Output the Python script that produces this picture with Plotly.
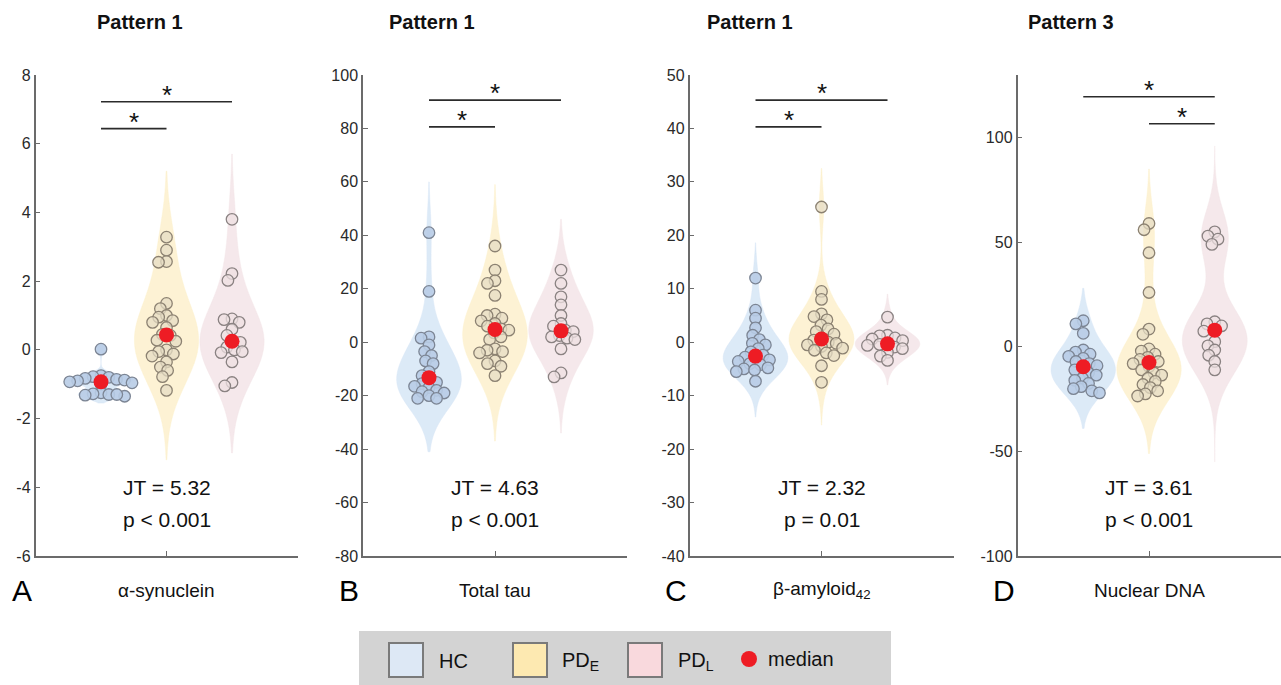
import numpy as np
import plotly.graph_objects as go

# ---------------- data ----------------
groups = ["HC", "PD<sub>E</sub>", "PD<sub>L</sub>"]
panel_letters = ["A", "B", "C", "D"]
panel_titles = ["Pattern 1", "Pattern 1", "Pattern 1", "Pattern 3"]
panel_labels = ["α-synuclein", "Total tau", "β-amyloid<sub>42</sub>", "Nuclear DNA"]
jt_values = ["JT = 5.32", "JT = 4.63", "JT = 2.32", "JT = 3.61"]
p_values = ["p < 0.001", "p < 0.001", "p = 0.01", "p < 0.001"]

syn_hc = [0.02, -0.75, -0.78, -0.8, -0.83, -0.86, -0.88, -0.9, -0.93, -0.96, -1.0,
          -1.25, -1.28, -1.3, -1.32, -1.35, -1.3]
syn_pde = [3.28, 2.9, 2.57, 2.55, 1.35, 1.2, 1.0, 0.95, 0.85, 0.8, 0.65, 0.45, 0.42, 0.28,
           0.25, 0.0, -0.05, -0.12, -0.18, -0.35, -0.5, -0.6, -0.78, -1.18]
syn_pdl = [3.8, 2.22, 2.02, 0.9, 0.88, 0.8, 0.6, 0.42, 0.25, 0.22, 0.08, 0.0, -0.05, -0.08,
           -0.35, -0.95, -1.05]

tau_hc = [41, 19, 2, 1.5, -1, -3.5, -5, -7, -8, -11, -12.5, -14, -15, -15.5, -16.5, -17,
          -18, -18.5, -19, -20, -21, -21]
tau_pde = [36, 27, 23, 22, 17.5, 10.5, 10, 9, 8, 7, 6, 5, 4.5, 3.5, 2, 1, -2.5, -3, -3.5,
           -4, -7, -8, -9, -12.5]
tau_pdl = [27, 22, 17, 14, 10, 7, 6, 4.5, 4, 2.5, 2, 1.5, 1, -2.5, -11.5, -13]

amy_hc = [12, 6, 4.5, 2.7, 1.3, 0.5, -0.2, -0.5, -1.2, -1.8, -2.4, -2.8, -3, -3.3, -3.6,
          -4, -4.2, -4.8, -5, -5.2, -5.5, -7.3]
amy_pde = [25.3, 9.5, 8, 5.3, 4.8, 4.2, 3.2, 2.5, 2, 1.5, 0.8, 0.4, 0, -0.2, -0.5, -0.8,
           -1.1, -1.5, -2, -2.5, -4.4, -7.5]
amy_pdl = [4.7, 1.3, 1.2, 0.8, 0.6, 0.3, -0.2, -0.4, -0.6, -0.9, -1.2, -1.9, -2.6, -3.4]

dna_hc = [12.5, 11, 6.5, -1.5, -2.5, -3.5, -4.5, -5.5, -7, -8, -9, -10, -11, -12.5, -13.5,
          -15, -16, -17.5, -19, -20, -21, -22]
dna_pde = [59, 56, 45, 26, 8.5, 6, -1, -2, -3.5, -5, -6, -7, -8, -9.5, -11, -12.5, -13.5,
           -15, -16.5, -18, -19.5, -21, -22.5, -23.5]
dna_pdl = [55, 53, 51.5, 49, 12, 11, 10, 8, 7.5, 2.5, 0.5, -1.5, -4, -7, -11]

panel_data = [
    [syn_hc, syn_pde, syn_pdl],
    [tau_hc, tau_pde, tau_pdl],
    [amy_hc, amy_pde, amy_pdl],
    [dna_hc, dna_pde, dna_pdl],
]

y_ranges = [[-6, 8], [-80, 100], [-40, 50], [-100, 130]]
y_dticks = [2, 20, 10, 50]
y_tick_max = [8, 100, 50, 100]

# significance bars: (from group, to group, height)
sig_bars = [
    [(1, 3, 7.22), (1, 2, 6.44)],
    [(1, 3, 90.6), (1, 2, 80.6)],
    [(1, 3, 45.3), (1, 2, 40.3)],
    [(1, 3, 119.6), (2, 3, 106.7)],
]

# ---------------- style ----------------
W, H = 1281, 685
PLOT_TOP_PX, PLOT_BOTTOM_PX = 75, 556
x_px = [(35.5, 297.5), (363, 627), (689.5, 953.5), (1017.5, 1280.5)]
bandwidths = [[0.12, 0.95, 0.9], [9, 11, 9], [3.0, 3.6, 2.0], [8, 12, 13]]
violin_spans = [
    [[-1.55, 0.15], [-3.2, 5.2], [-3.0, 5.7]],
    [[-41, 60], [-37, 59], [-34, 46]],
    [[-14, 18.6], [-15.5, 32.5], [-8, 9]],
    [[-39, 28], [-51, 85], [-55, 96]],
]
violin_fill = ["rgba(214,230,246,0.85)", "rgba(253,240,204,0.85)", "rgba(243,228,231,0.85)"]
marker_fill = ["rgba(184,204,230,0.9)", "rgba(230,220,196,0.75)", "rgba(238,224,226,0.75)"]
marker_edge = ["#7c8594", "#8c8272", "#8a8282"]
legend_fill = ["#dde8f5", "#fde9b1", "#f9d9dd"]
median_color = "#ee1c24"
axis_color = "#6b6b6b"
FONT = "Liberation Sans, Arial, sans-serif"
MARKER_D = 11.5
SWARM_D = 8.0


def beeswarm(ypx, d):
    ypx = np.asarray(ypx, dtype=float)
    xs = np.zeros(len(ypx))
    placed = []
    order = np.argsort(-ypx)
    for i in order:
        y = ypx[i]
        neigh = [(xj, yj) for xj, yj in placed if abs(yj - y) < d]
        cands = [0.0]
        for xj, yj in neigh:
            dx = np.sqrt(d * d - (yj - y) ** 2)
            cands += [xj + dx, xj - dx]
        cands.sort(key=lambda c: (abs(c), c))
        for c in cands:
            if all((c - xj) ** 2 + (y - yj) ** 2 >= d * d - 1e-6 for xj, yj in neigh):
                xs[i] = c
                break
        placed.append((xs[i], y))
    return xs


def ann(x, y, text, size, xanchor="center", color="#111", **kw):
    return dict(xref="paper", yref="paper", x=x / W, y=(H - y) / H, text=text,
                showarrow=False, xanchor=xanchor, yanchor="middle",
                font=dict(family=FONT, size=size, color=color), **kw)


fig = go.Figure()
ydom = [(H - PLOT_BOTTOM_PX) / H, (H - PLOT_TOP_PX) / H]
plot_h = PLOT_BOTTOM_PX - PLOT_TOP_PX

annotations = []
shapes = []

for p in range(4):
    ax = "" if p == 0 else str(p + 1)
    xref, yref = "x" + ax, "y" + ax
    x0, x1 = x_px[p]
    px_per_x = (x1 - x0) / 4.0
    px_per_y = plot_h / (y_ranges[p][1] - y_ranges[p][0])
    for g in range(3):
        vals = np.array(panel_data[p][g], dtype=float)
        pos = g + 1
        fig.add_trace(go.Violin(
            y=vals, x0=pos, xaxis=xref, yaxis=yref, points=False,
            bandwidth=bandwidths[p][g], spanmode="manual", span=violin_spans[p][g],
            width=0.98, scalemode="width", fillcolor=violin_fill[g],
            line=dict(color=violin_fill[g], width=0.5),
            box_visible=False, meanline_visible=False, showlegend=False,
            hoverinfo="skip"))
        offs = beeswarm(vals * px_per_y, SWARM_D) / px_per_x
        fig.add_trace(go.Scatter(
            x=pos + offs, y=vals, mode="markers", xaxis=xref, yaxis=yref,
            marker=dict(size=MARKER_D, color=marker_fill[g],
                        line=dict(color=marker_edge[g], width=1.3)),
            showlegend=False, hoverinfo="skip"))
        fig.add_trace(go.Scatter(
            x=[pos], y=[float(np.median(vals))], mode="markers", xaxis=xref, yaxis=yref,
            marker=dict(size=15, color=median_color), showlegend=False, hoverinfo="skip"))
    # significance bars
    for a, b, h in sig_bars[p]:
        shapes.append(dict(type="line", xref=xref, yref=yref, x0=a, x1=b, y0=h, y1=h,
                           line=dict(color="#2b2b2b", width=1.6)))
        annotations.append(dict(xref=xref, yref=yref, x=(a + b) / 2, y=h, text="*",
                                showarrow=False, xanchor="center", yanchor="bottom",
                                yshift=-10,
                                font=dict(family=FONT, size=26, color="#111")))
    dom = [x0 / W, x1 / W]
    fig.layout["xaxis" + ax] = dict(
        domain=dom, range=[0, 4], anchor=yref, showline=True, linecolor=axis_color,
        linewidth=1.5, ticks="inside", ticklen=5, tickcolor=axis_color,
        tickvals=[2], ticktext=[" "], showgrid=False, zeroline=False, fixedrange=True,
        automargin=False)
    tv = list(np.arange(y_ranges[p][0], y_tick_max[p] + 1e-9, y_dticks[p]))
    fig.layout["yaxis" + ax] = dict(
        domain=ydom, range=y_ranges[p], anchor=xref, showline=True, linecolor=axis_color,
        linewidth=1.5, ticks="inside", ticklen=5, tickcolor=axis_color,
        tickvals=tv, ticktext=[f"{v:g}" for v in tv], showgrid=False, zeroline=False,
        tickfont=dict(family=FONT, size=16, color="#2a2a2a"), fixedrange=True,
        automargin=False)
    cx = (x0 + x1) / 2
    annotations.append(ann(cx, 488, jt_values[p], 21))
    annotations.append(ann(cx, 519, p_values[p], 21))
    annotations.append(ann(cx, 590, panel_labels[p], 19))
    annotations.append(ann(x0 - 14, 590, panel_letters[p], 30, color="#000"))

# titles
title_x = [140, 432, 750, 1071]
for p in range(4):
    annotations.append(ann(title_x[p], 22, "<b>" + panel_titles[p] + "</b>", 20))

# legend box
shapes.append(dict(type="rect", xref="paper", yref="paper", x0=359 / W, x1=891 / W,
                   y0=0, y1=(H - 631) / H, fillcolor="#d3d3d3", line=dict(width=0),
                   layer="below"))
leg_sq_x = [389, 513, 628]
leg_txt_x = [437, 560, 676]
for g in range(3):
    shapes.append(dict(type="rect", xref="paper", yref="paper",
                       x0=leg_sq_x[g] / W, x1=(leg_sq_x[g] + 34) / W,
                       y0=(H - 677) / H, y1=(H - 643) / H, fillcolor=legend_fill[g],
                       line=dict(color="#7a7a7a", width=2)))
    annotations.append(ann(leg_txt_x[g], 661, groups[g], 20, xanchor="left"))
shapes.append(dict(type="circle", xref="paper", yref="paper", x0=741 / W, x1=757 / W,
                   y0=(H - 667) / H, y1=(H - 651) / H, fillcolor=median_color,
                   line=dict(width=0)))
annotations.append(ann(766, 659, "median", 20, xanchor="left"))

fig.update_layout(width=W, height=H, margin=dict(l=0, r=0, t=0, b=0),
                  paper_bgcolor="white", plot_bgcolor="white", violinmode="overlay",
                  shapes=shapes, annotations=annotations, showlegend=False)
fig.write_html("out.html", config={"displayModeBar": False},
               post_script="document.body.style.margin='0px';document.body.style.overflow='hidden';")
